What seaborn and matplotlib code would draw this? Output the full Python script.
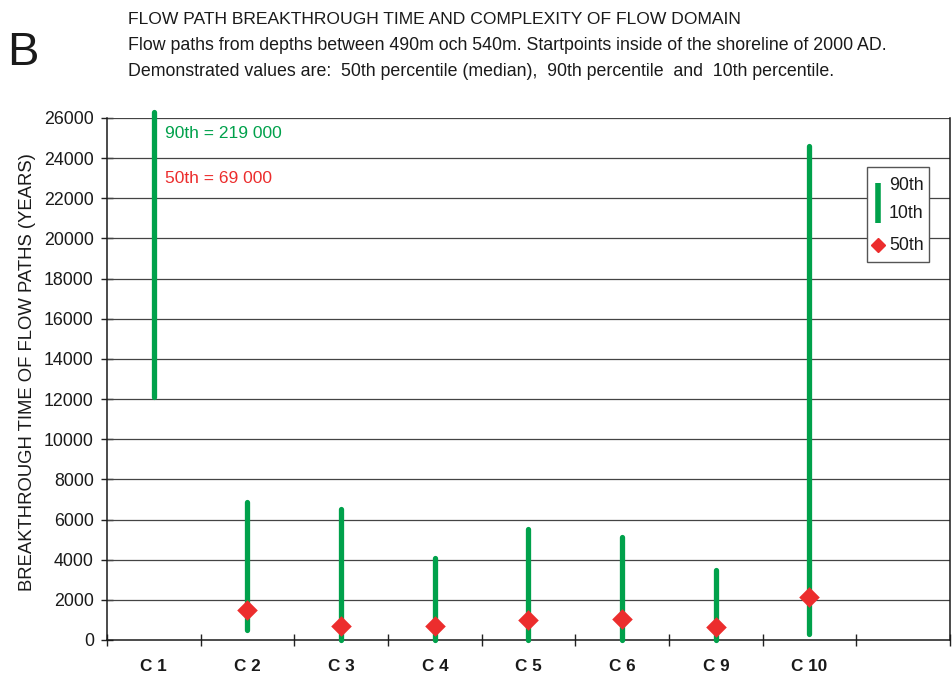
import matplotlib
matplotlib.use("Agg")
import matplotlib.pyplot as plt
from matplotlib.patches import Rectangle
from matplotlib.lines import Line2D
import seaborn as sns
import pandas as pd

# Flow path breakthrough times per case (years)
cases = ["C 1", "C 2", "C 3", "C 4", "C 5", "C 6", "C 9", "C 10"]
p10 = [12100, 500, 0, 0, 0, 0, 0, 300]
p50 = [69000, 1470, 710, 710, 990, 1060, 650, 2130]
p90 = [219000, 6880, 6520, 4070, 5530, 5110, 3490, 24600]
yticks = list(range(0, 26001, 2000))

df = pd.DataFrame({"case": cases, "p10": p10, "p50": p50, "p90": p90})
df["pos"] = range(len(df))

sns.set_theme(style="white")
plt.rcParams["font.family"] = ["Liberation Sans", "DejaVu Sans"]

GREEN = "#00a14b"
RED = "#ec2d2d"
INK = "#1a1a1a"

fig = plt.figure(figsize=(9.53, 6.87), dpi=100)
ax = fig.add_axes([107 / 953, 47 / 687, (950 - 107) / 953, (640 - 118) / 687])

ymax = 26000
ax.set_ylim(0, ymax)
ax.set_xlim(-0.5, len(cases) + 0.5)

# horizontal grid
for yv in yticks[1:]:
    ax.axhline(yv, color="#444444", lw=0.9, zorder=1)

# 10th-90th percentile ranges
top = df["p90"].clip(upper=ymax * 1.012)
ax.vlines(df["pos"], df["p10"], top, color=GREEN, lw=3.8, zorder=3,
          clip_on=False, capstyle="round")

# medians (only those within range)
med = df[df["p50"] <= ymax]
sns.scatterplot(data=med, x="pos", y="p50", marker="D", s=110, color=RED,
                edgecolor=RED, linewidth=0, zorder=4, ax=ax, legend=False)

# annotations for out-of-range values of C 1
ax.text(0.12, 25250, f"90th = {p90[0] // 1000} 000", color=GREEN, fontsize=12.5,
        va="center", ha="left")
ax.text(0.12, 23000, f"50th = {p50[0] // 1000} 000", color=RED, fontsize=12.5,
        va="center", ha="left")

# axes styling
ax.set_yticks(yticks)
ax.set_yticklabels([str(v) for v in yticks], fontsize=12.8, color=INK)
ax.set_xticks(range(len(cases)))
ax.set_xticklabels(cases, fontsize=12.3, fontweight="bold", color=INK)
ax.set_xticks([i - 0.5 for i in range(len(cases) + 2)], minor=True)
ax.tick_params(axis="x", which="major", length=0, pad=14)
ax.tick_params(axis="x", which="minor", direction="inout", length=9, width=1,
               color="#222222", bottom=True)
ax.tick_params(axis="y", direction="inout", length=9, width=1, color="#222222",
               left=True, pad=5)
ax.set_xlabel("")
ax.set_ylabel("BREAKTHROUGH TIME OF FLOW PATHS (YEARS)", fontsize=13.3,
              color=INK)
ax.yaxis.set_label_coords(-0.084, 0.513)

for side in ["left", "bottom", "right"]:
    ax.spines[side].set_visible(True)
    ax.spines[side].set_color(INK)
    ax.spines[side].set_linewidth(1.1)
ax.spines["top"].set_visible(False)

# legend box
lx0, ly0 = 867 / 953, (687 - 262) / 687
lw_, lh_ = (929 - 867) / 953, (262 - 167) / 687
fig.patches.append(Rectangle((lx0, ly0), lw_, lh_, transform=fig.transFigure,
                             facecolor="white", edgecolor="#555555", lw=1,
                             zorder=5))
fig.lines.append(Line2D([878 / 953, 878 / 953], [(687 - 183) / 687, (687 - 223) / 687],
                        transform=fig.transFigure, color=GREEN, lw=4,
                        solid_capstyle="butt", zorder=6))
fig.lines.append(Line2D([878 / 953], [(687 - 245) / 687], transform=fig.transFigure,
                        marker="D", markersize=7, color=RED, lw=0, zorder=6))
for lbl, yy in [("90th", 186), ("10th", 214), ("50th", 245)]:
    fig.text(889 / 953, (687 - yy) / 687, lbl, fontsize=12.8, va="center",
             ha="left", color=INK, zorder=7)

# headings
fig.text(7 / 953, (687 - 53) / 687, "B", fontsize=34, va="center", ha="left",
         color=INK)
fig.text(128 / 953, (687 - 20) / 687,
         "FLOW PATH BREAKTHROUGH TIME AND COMPLEXITY OF FLOW DOMAIN",
         fontsize=12.6, va="center", ha="left", color=INK)
fig.text(128 / 953, (687 - 46) / 687,
         "Flow paths from depths between 490m och 540m. Startpoints inside of the shoreline of 2000 AD.",
         fontsize=12.8, va="center", ha="left", color=INK)
fig.text(128 / 953, (687 - 72) / 687,
         "Demonstrated values are:  50th percentile (median),  90th percentile  and  10th percentile.",
         fontsize=12.8, va="center", ha="left", color=INK)

fig.savefig("out.png", dpi=100, facecolor="white")
